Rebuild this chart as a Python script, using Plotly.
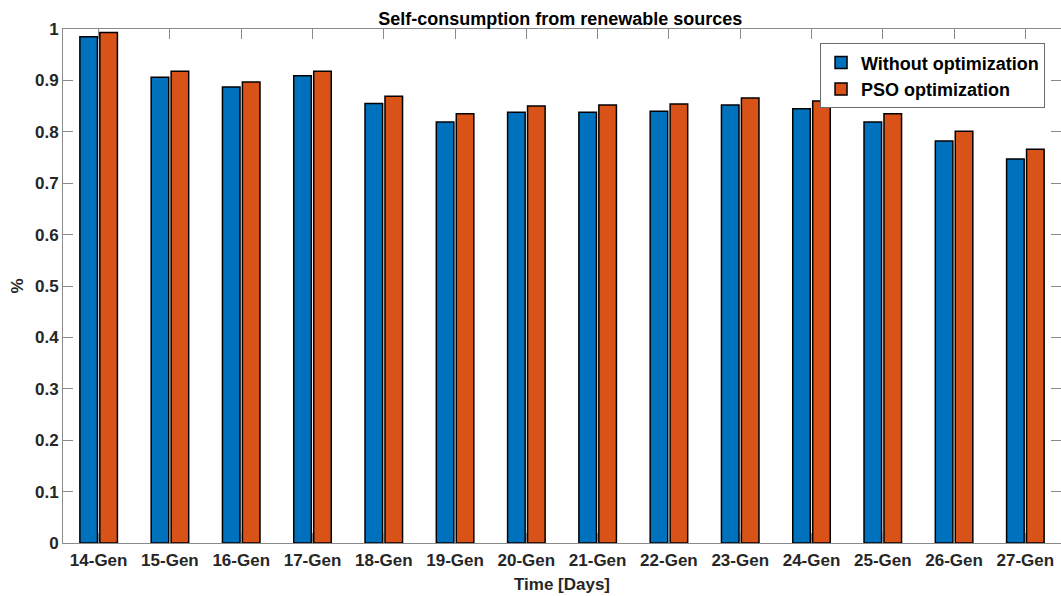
import plotly.graph_objects as go

days = ["14-Gen", "15-Gen", "16-Gen", "17-Gen", "18-Gen", "19-Gen", "20-Gen",
        "21-Gen", "22-Gen", "23-Gen", "24-Gen", "25-Gen", "26-Gen", "27-Gen"]
without_opt = [0.985, 0.906, 0.887, 0.909, 0.855, 0.819, 0.838,
               0.838, 0.840, 0.852, 0.845, 0.819, 0.782, 0.747]
pso_opt = [0.993, 0.918, 0.897, 0.918, 0.869, 0.835, 0.850,
           0.852, 0.854, 0.866, 0.860, 0.835, 0.801, 0.766]
y_ticks = [0, 0.1, 0.2, 0.3, 0.4, 0.5, 0.6, 0.7, 0.8, 0.9, 1]
y_tick_labels = ["0", "0.1", "0.2", "0.3", "0.4", "0.5", "0.6", "0.7", "0.8", "0.9", "1"]

FONT = "Liberation Sans, Arial, sans-serif"
TXT = "#262626"
AX = "#8a8a8a"

fig = go.Figure()
fig.add_trace(go.Bar(x=days, y=without_opt, name="<b>Without optimization</b>",
                     marker=dict(color="#0072BD", line=dict(color="black", width=1.5))))
fig.add_trace(go.Bar(x=days, y=pso_opt, name="<b>PSO optimization</b>",
                     marker=dict(color="#D95319", line=dict(color="black", width=1.5))))

fig.update_layout(
    width=1061, height=596,
    margin=dict(l=63, r=0, t=29, b=53),
    paper_bgcolor="white", plot_bgcolor="white",
    barmode="group", bargap=0.44, bargroupgap=0.12,
    font=dict(family=FONT, color=TXT),
    title=dict(text="<b>Self-consumption from renewable sources</b>",
               x=0.528, xanchor="center", xref="container",
               y=1 - 19 / 596, yanchor="middle", yref="container",
               font=dict(size=18, family=FONT, color="black")),
    legend=dict(x=0.984, xanchor="right", y=0.972, yanchor="top",
                bgcolor="white", bordercolor="#6b6b6b", borderwidth=1,
                font=dict(size=18, family=FONT, color="black"),
                itemwidth=30, tracegroupgap=0),
    showlegend=True,
)
fig.update_xaxes(
    range=[-0.5, 13.5],
    tickvals=days, ticktext=[f"<b>{d}</b>" for d in days],
    showline=True, linecolor=AX, linewidth=1, mirror="ticks",
    ticks="inside", ticklen=10, tickcolor=AX, ticklabelstandoff=2,
    tickfont=dict(size=17, family=FONT, color=TXT),
    title=dict(text="<b>Time [Days]</b>", font=dict(size=17, family=FONT, color=TXT), standoff=8),
    showgrid=False,
)
fig.update_yaxes(
    range=[0, 1],
    tickvals=y_ticks, ticktext=[f"<b>{t}</b>" for t in y_tick_labels],
    showline=True, linecolor=AX, linewidth=1, mirror="ticks",
    ticks="inside", ticklen=10, tickcolor=AX,
    tickfont=dict(size=17, family=FONT, color=TXT),
    title=dict(text="<b>%</b>", font=dict(size=17, family=FONT, color=TXT), standoff=7),
    showgrid=False, zeroline=False,
)

fig.write_html("out.html", config={"displayModeBar": False},
               post_script="document.body.style.margin='0';")
